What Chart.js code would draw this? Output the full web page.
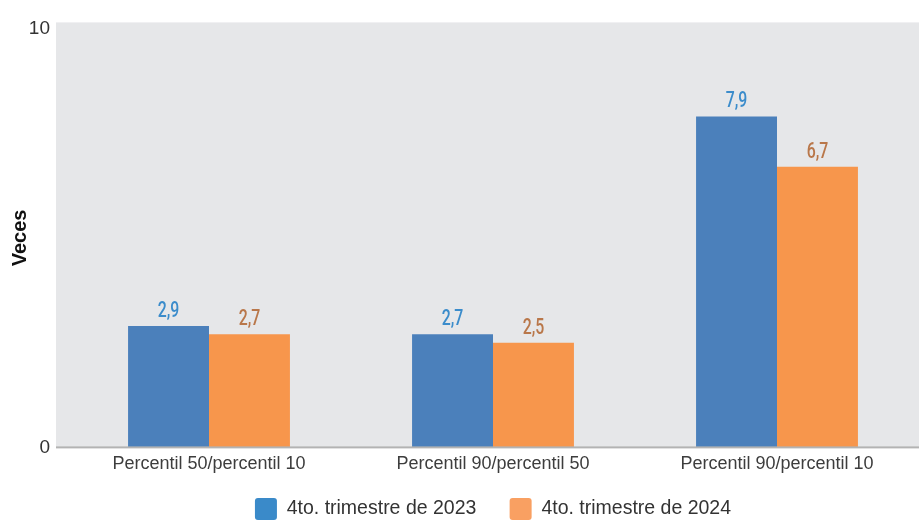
<!DOCTYPE html>
<html>
<head>
<meta charset="utf-8">
<script src="https://cdn.jsdelivr.net/npm/chart.js@4.4.1/dist/chart.umd.min.js"></script>
<style>
  html, body { margin: 0; padding: 0; background: #fff; }
  #wrap { width: 919px; height: 520px; position: relative; }
</style>
</head>
<body>
<div id="wrap"><canvas id="chart"></canvas></div>
<script>
// === Data ===
const categories = ["Percentil 50/percentil 10", "Percentil 90/percentil 50", "Percentil 90/percentil 10"];
const seriesNames = ["4to. trimestre de 2023", "4to. trimestre de 2024"];
const values2023 = [2.9, 2.7, 7.9];
const values2024 = [2.7, 2.5, 6.7];
const yTicks = [0, 10];

const barColors = ["#4b80bb", "#f7964c"];
const legendColors = ["#3a8ac9", "#f9a062"];
const labelColors = ["#3b8ccb", "#b9774a"];
const FONT = "'Liberation Sans', Arial, sans-serif";

// grey panel + baseline, drawn a bit wider than the chart area
const panelPlugin = {
  id: "panel",
  beforeDraw(chart) {
    const { ctx, chartArea } = chart;
    ctx.save();
    ctx.fillStyle = "#e6e7e9";
    ctx.fillRect(chartArea.left - 11, chartArea.top - 6, chartArea.right - chartArea.left + 11, chartArea.bottom - chartArea.top + 6);
    ctx.restore();
  },
  afterDatasetsDraw(chart) {
    const { ctx, chartArea } = chart;
    ctx.save();
    ctx.fillStyle = "#b3b3b3";
    ctx.fillRect(chartArea.left - 11, chartArea.bottom - 1, chartArea.right - chartArea.left + 11, 2);
    ctx.restore();
  }
};

// value labels above bars, condensed look
const valueLabels = {
  id: "valueLabels",
  afterDatasetsDraw(chart) {
    const { ctx } = chart;
    chart.data.datasets.forEach((ds, i) => {
      const meta = chart.getDatasetMeta(i);
      meta.data.forEach((bar, j) => {
        const txt = ds.data[j].toFixed(1).replace(".", ",");
        ctx.save();
        ctx.translate(bar.x, bar.y - 9);
        ctx.scale(0.72, 1);
        ctx.font = "500 22px Roboto, " + FONT;
        ctx.fillStyle = labelColors[i];
        ctx.textAlign = "center";
        ctx.textBaseline = "alphabetic";
        ctx.fillText(txt, 0, 0);
        ctx.restore();
      });
    });
  }
};

new Chart(document.getElementById("chart"), {
  type: "bar",
  data: {
    labels: categories,
    datasets: [
      { label: seriesNames[0], data: values2023, backgroundColor: barColors[0] },
      { label: seriesNames[1], data: values2024, backgroundColor: barColors[1] }
    ]
  },
  options: {
    responsive: true,
    maintainAspectRatio: false,
    animation: false,
    layout: { padding: { top: 26, right: 0, left: 0, bottom: -10 } },
    datasets: {
      bar: { barPercentage: 1, categoryPercentage: 0.57 }
    },
    scales: {
      x: {
        grid: { display: false, drawTicks: false },
        border: { display: false },
        ticks: {
          color: "#3d3d3d",
          font: { family: FONT, size: 18 },
          padding: 6,
          maxRotation: 0
        }
      },
      y: {
        min: 0,
        max: 10,
        afterBuildTicks(scale) {
          scale.ticks = yTicks.map(v => ({ value: v }));
        },
        afterFit(scale) { scale.width = 67; },
        grid: { display: false, drawTicks: false },
        border: { display: false },
        ticks: {
          color: "#333",
          font: { family: FONT, size: 19 },
          padding: 17
        },
        title: {
          display: true,
          text: "Veces",
          color: "#111",
          font: { family: FONT, size: 20, weight: "bold" },
          padding: { top: 8, bottom: 0 }
        }
      }
    },
    plugins: {
      legend: {
        position: "bottom",
        fullSize: false,
        labels: {
          color: "#333",
          font: { family: FONT, size: 19.5 },
          boxWidth: 22,
          boxHeight: 22,
          padding: 17,
          useBorderRadius: true,
          borderRadius: 3,
          generateLabels(chart) {
            // trailing spaces widen the gap between the two items
            return chart.data.datasets.map((ds, i) => ({
              text: i === 0 ? ds.label + "   " : ds.label,
              fillStyle: legendColors[i],
              strokeStyle: legendColors[i],
              lineWidth: 0,
              fontColor: "#333",
              borderRadius: 3,
              datasetIndex: i
            }));
          }
        }
      },
      tooltip: { enabled: false }
    }
  },
  plugins: [panelPlugin, valueLabels]
});
</script>
</body>
</html>
